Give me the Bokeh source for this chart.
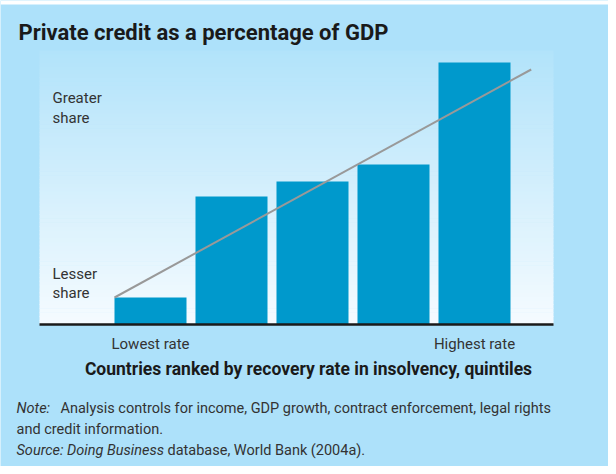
from bokeh.plotting import figure
from bokeh.models import Label, Range1d
from bokeh.embed import file_html
from bokeh.resources import INLINE

# ---- data (arbitrary index units) ----
quintiles = [1, 2, 3, 4, 5]
credit_share = [27, 128, 143, 160, 262]
trend_x = [0.556, 5.70]
trend_y = [27, 255]
tick_pos = [1, 5]
tick_labels = ["Lowest rate", "Highest rate"]

title_text = "Private credit as a percentage of GDP"
xlabel_text = "Countries ranked by recovery rate in insolvency, quintiles"

PANEL = "#ADE1FA"
BAR = "#0099CC"
FONT = "Roboto"

W, H = 608, 466
PX = 81.0                      # px per quintile
X0 = 1 - 150 / PX              # data x at left edge of figure
p = figure(width=W, height=H, output_backend="svg", toolbar_location=None,
           x_range=Range1d(X0, X0 + W / PX), y_range=Range1d(-142, 324),
           min_border=0)
p.border_fill_color = PANEL
p.background_fill_color = PANEL
p.outline_line_color = None
p.grid.visible = False
p.axis.visible = False

# white strip at the very top (page header area)
p.quad(left=[X0], right=[X0 + W / PX], bottom=[320], top=[324],
       fill_color="white", line_color=None)

# plot-area box in data coordinates
BL, BR = X0 + 39 / PX, X0 + 553 / PX
BT = 274

# vertical gradient background (decoration)
n = 70
top_c = (0xB2, 0xE3, 0xFA)
bot_c = (0xF5, 0xFB, 0xFF)
bots, tops, cols = [], [], []
for i in range(n):
    y0 = BT * i / n
    y1 = BT * (i + 1) / n
    t = (i + 0.5) / n
    c = tuple(int(round(bot_c[k] + (top_c[k] - bot_c[k]) * t)) for k in range(3))
    bots.append(y0); tops.append(min(y1 + 0.6, BT)); cols.append("#%02x%02x%02x" % c)
p.quad(left=BL, right=BR, bottom=bots, top=tops, fill_color=cols, line_color=None)

p.vbar(x=quintiles, top=credit_share, width=0.889, fill_color=BAR, line_color=None)
p.line(trend_x, trend_y, line_color="#999999", line_width=2)
p.segment(x0=[BL], y0=[0], x1=[BR], y1=[0], line_color="#1a1a1a", line_width=2.5)


def lab(x, y, text, size, style="normal", color="#333333", align="left", x_data=False):
    # x, y in page px (y = vertical centre); page = figure + 8px margin
    p.add_layout(Label(x=x if x_data else x - 8, y=474 - y,
                       x_units="data" if x_data else "screen", y_units="screen",
                       text=text, text_font=FONT, text_font_size=size,
                       text_font_style=style, text_color=color,
                       text_align=align, text_baseline="middle"))


for xp, t in zip(tick_pos, tick_labels):
    lab(xp, 351, t, "15px", align="center", x_data=True)
lab(316, 376, xlabel_text, "17.5px", "bold", "#1a1a1a", align="center")

lab(26, 40, title_text, "22px", "bold", "#1a1a1a")
lab(60, 105, "Greater", "15px")
lab(60, 125, "share", "15px")
lab(60, 281, "Lesser", "15px")
lab(60, 300, "share", "15px")
lab(24, 416, "Note:", "14.5px", "italic")
lab(68, 416, "Analysis controls for income, GDP growth, contract enforcement, legal rights", "14.5px")
lab(24, 437, "and credit information.", "14.5px")
lab(24, 458, "Source: Doing Business", "14.5px", "italic")
lab(175, 458, "database, World Bank (2004a).", "14.5px")

open("out.html", "w").write(file_html(p, INLINE))
